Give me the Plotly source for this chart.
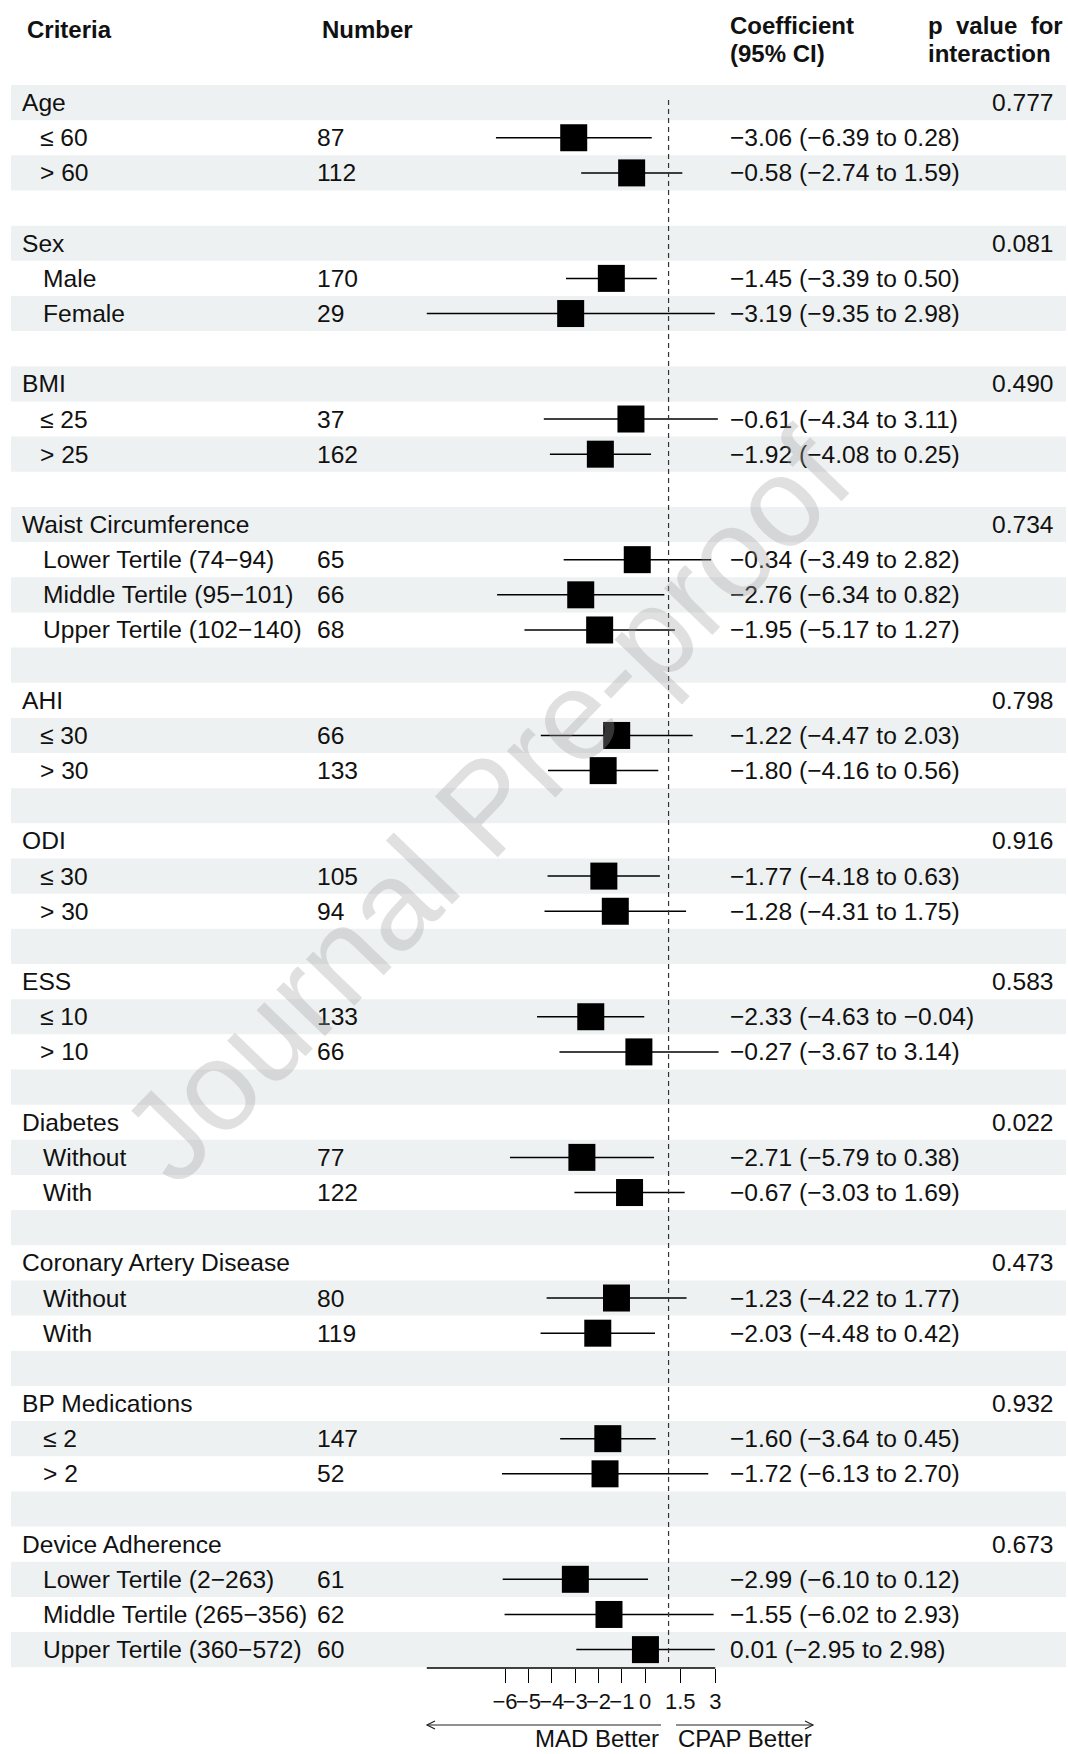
import plotly.graph_objects as go

# ---------------------------------------------------------------- data
groups = ["Age", "Sex", "BMI", "Waist Circumference", "AHI", "ODI", "ESS",
          "Diabetes", "Coronary Artery Disease", "BP Medications", "Device Adherence"]
p_interaction = ["0.777", "0.081", "0.490", "0.734", "0.798", "0.916", "0.583",
                 "0.022", "0.473", "0.932", "0.673"]
subgroups = [
    ["  ≤ 60", "  > 60"],
    ["   Male", "   Female"],
    ["  ≤ 25", "  > 25"],
    ["   Lower Tertile (74−94)", "   Middle Tertile (95−101)", "   Upper Tertile (102−140)"],
    ["  ≤ 30", "  > 30"],
    ["  ≤ 30", "  > 30"],
    ["  ≤ 10", "  > 10"],
    ["   Without", "   With"],
    ["   Without", "   With"],
    ["   ≤ 2", "   > 2"],
    ["   Lower Tertile (2−263)", "   Middle Tertile (265−356)", "   Upper Tertile (360−572)"],
]
numbers = [[87, 112], [170, 29], [37, 162], [65, 66, 68], [66, 133], [105, 94],
           [133, 66], [77, 122], [80, 119], [147, 52], [61, 62, 60]]
coef = [[-3.06, -0.58], [-1.45, -3.19], [-0.61, -1.92], [-0.34, -2.76, -1.95],
        [-1.22, -1.80], [-1.77, -1.28], [-2.33, -0.27], [-2.71, -0.67],
        [-1.23, -2.03], [-1.60, -1.72], [-2.99, -1.55, 0.01]]
ci_low = [[-6.39, -2.74], [-3.39, -9.35], [-4.34, -4.08], [-3.49, -6.34, -5.17],
          [-4.47, -4.16], [-4.18, -4.31], [-4.63, -3.67], [-5.79, -3.03],
          [-4.22, -4.48], [-3.64, -6.13], [-6.10, -6.02, -2.95]]
ci_high = [[0.28, 1.59], [0.50, 2.98], [3.11, 0.25], [2.82, 0.82, 1.27],
           [2.03, 0.56], [0.63, 1.75], [-0.04, 3.14], [0.38, 1.69],
           [1.77, 0.42], [0.45, 2.70], [0.12, 2.93, 2.98]]

tick_vals = [-6, -5, -4, -3, -2, -1, 0, 1.5, 3]
tick_text = ["−6", "−5", "−4", "−3", "−2", "−1", "0", "1.5", "3"]
ref_value = 1
left_label = "MAD Better"
right_label = "CPAP Better"
watermark = "Journal Pre-proof"

# ---------------------------------------------------------------- geometry
W, H = 1068, 1754
ROW_TOP, ROW_H = 85, 35.16
PLOT_BOTTOM = 1668
ZERO_PX, UNIT_PX = 645.2, 23.36
FONT = "Liberation Sans, Arial, Helvetica, sans-serif"
BODY_SIZE = 24.6
BAND = "#eef1f2"
INK = "#111111"
INDENT_PX = {2: 17.5, 3: 20.5}


def px_to_row(p):
    return (p - ROW_TOP) / ROW_H - 0.5


def paper_x(p):
    return p / W


def paper_y(p):
    return 1 - p / H


def fmt(v):
    return f"{v:.2f}".replace("-", "−")


# ---------------------------------------------------------------- rows
rows = []  # (kind, label, n, est, lo, hi, p)
for gi, g in enumerate(groups):
    rows.append(("group", g, None, None, None, None, p_interaction[gi]))
    for si, s in enumerate(subgroups[gi]):
        rows.append(("sub", s, numbers[gi][si], coef[gi][si],
                     ci_low[gi][si], ci_high[gi][si], None))
    if gi < len(groups) - 1:
        rows.append(("blank", "", None, None, None, None, None))

n_rows = len(rows)

fig = go.Figure()
shapes = []
annotations = []

# striped background
for r in range(n_rows):
    if r % 2 == 0:
        shapes.append(dict(type="rect", xref="paper", yref="y",
                           x0=paper_x(11), x1=paper_x(1066), y0=r - 0.5, y1=r + 0.5,
                           fillcolor=BAND, line=dict(width=0), layer="below"))

# reference line
shapes.append(dict(type="line", xref="x", yref="y", x0=ref_value, x1=ref_value,
                   y0=px_to_row(100), y1=px_to_row(1662),
                   line=dict(color="#333333", width=1.2, dash="5px,4px")))

# confidence intervals and point estimates
ci_x, ci_y, pt_x, pt_y = [], [], [], []
for r, row in enumerate(rows):
    if row[0] == "sub":
        ci_x += [row[4], row[5], None]
        ci_y += [r, r, None]
        pt_x.append(row[3])
        pt_y.append(r)

fig.add_trace(go.Scatter(x=ci_x, y=ci_y, mode="lines",
                         line=dict(color="black", width=1.5),
                         hoverinfo="skip", cliponaxis=False))
fig.add_trace(go.Scatter(x=pt_x, y=pt_y, mode="markers",
                         marker=dict(symbol="square", size=27, color="black",
                                     line=dict(width=0)),
                         cliponaxis=False))


def text(x_px, y, s, anchor="left", size=BODY_SIZE, yref="y", bold=False, color=INK):
    annotations.append(dict(
        x=paper_x(x_px), xref="paper", y=y, yref=yref,
        text=(f"<b>{s}</b>" if bold else s), showarrow=False,
        xanchor=anchor, yanchor="middle",
        font=dict(family=FONT, size=size, color=color)))


# table columns
for r, row in enumerate(rows):
    kind, label, n, est, lo, hi, p = row
    if kind == "group":
        text(20, r, label)
        text(990, r, p)
    elif kind == "sub":
        stripped = label.lstrip(" ")
        indent = len(label) - len(stripped)
        text(20 + INDENT_PX.get(indent, 20.5), r, stripped)
        text(315, r, str(n))
        text(728, r, f"{fmt(est)} ({fmt(lo)} to {fmt(hi)})")

# headers
text(25, paper_y(30), "Criteria", yref="paper", bold=True, size=24)
text(320, paper_y(30), "Number", yref="paper", bold=True, size=24)
text(728, paper_y(26), "Coefficient", yref="paper", bold=True, size=24)
text(728, paper_y(53), "(95% CI)", yref="paper", bold=True, size=24)
text(926, paper_y(26), "p\u00a0\u00a0value\u00a0\u00a0for", yref="paper", bold=True, size=24)
text(926, paper_y(53), "interaction", yref="paper", bold=True, size=24)

# axis line across the data span
x_min = min(min(v) for v in ci_low)
x_max = max(tick_vals)
shapes.append(dict(type="line", xref="x", yref="paper",
                   x0=x_min, x1=x_max, y0=paper_y(PLOT_BOTTOM), y1=paper_y(PLOT_BOTTOM),
                   line=dict(color="black", width=1.3)))

# direction arrows
ay = 1725
lx0, lx1 = 427, 661
rx0, rx1 = 676, 813
arrow_line = dict(color="#222222", width=1.2)
shapes.append(dict(type="line", xref="paper", yref="paper",
                   x0=paper_x(lx0), x1=paper_x(lx1), y0=paper_y(ay), y1=paper_y(ay),
                   line=arrow_line))
shapes.append(dict(type="line", xref="paper", yref="paper",
                   x0=paper_x(rx0), x1=paper_x(rx1), y0=paper_y(ay), y1=paper_y(ay),
                   line=arrow_line))
shapes.append(dict(type="path", xref="paper", yref="paper",
                   path=(f"M{paper_x(lx0 + 8)},{paper_y(ay - 4)} L{paper_x(lx0)},{paper_y(ay)} "
                         f"L{paper_x(lx0 + 8)},{paper_y(ay + 4)}"),
                   line=arrow_line))
shapes.append(dict(type="path", xref="paper", yref="paper",
                   path=(f"M{paper_x(rx1 - 8)},{paper_y(ay - 4)} L{paper_x(rx1)},{paper_y(ay)} "
                         f"L{paper_x(rx1 - 8)},{paper_y(ay + 4)}"),
                   line=arrow_line))
text(lx1, paper_y(1738), left_label, anchor="right", yref="paper", size=24)
text(rx0, paper_y(1738), right_label, anchor="left", yref="paper", size=24)

# watermark
annotations.append(dict(
    x=paper_x(486), xref="paper", y=paper_y(806), yref="paper",
    text=watermark, showarrow=False, textangle=-46,
    xanchor="center", yanchor="middle",
    font=dict(family=FONT, size=127, color="rgba(160,160,160,0.33)")))

fig.update_layout(
    width=W, height=H,
    margin=dict(l=0, r=0, t=0, b=0),
    paper_bgcolor="white", plot_bgcolor="white",
    showlegend=False,
    shapes=shapes, annotations=annotations,
    xaxis=dict(range=[-ZERO_PX / UNIT_PX, (W - ZERO_PX) / UNIT_PX],
               domain=[0, 1], showgrid=False, zeroline=False, showline=False,
               tickmode="array", tickvals=tick_vals, ticktext=tick_text,
               ticks="outside", ticklen=14, tickwidth=1.3, tickcolor="black",
               tickangle=0, tickfont=dict(family=FONT, size=22, color=INK)),
    yaxis=dict(range=[px_to_row(PLOT_BOTTOM), px_to_row(0)],
               domain=[1 - PLOT_BOTTOM / H, 1], visible=False),
)

fig.write_html("out.html")
